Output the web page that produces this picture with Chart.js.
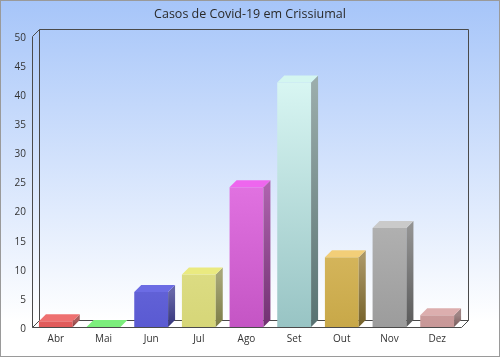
<!DOCTYPE html>
<html>
<head>
<meta charset="utf-8">
<script src="https://cdn.jsdelivr.net/npm/chart.js@4.4.0/dist/chart.umd.min.js"></script>
<style>
  html, body { margin: 0; padding: 0; background: #fff; }
  #wrap { width: 500px; height: 357px; }
</style>
</head>
<body>
<div id="wrap"><canvas id="casosChart"></canvas></div>
<script>
// Data for the chart
const chartTitle = 'Casos de Covid-19 em Crissiumal';
const months = ['Abr', 'Mai', 'Jun', 'Jul', 'Ago', 'Set', 'Out', 'Nov', 'Dez'];
const casos = [1, 0, 6, 9, 24, 42, 12, 17, 2];
const yMax = 50;
const yStep = 5;

// front face colours, light top / darker bottom, plus the top face
const topColors = ['#f88a8a', '#92f892', '#9494f6', '#f6f6b0', '#ff90ff', '#e4fffb', '#fadc94', '#d6d6d6', '#e8c2c2'];
const bottomColors = ['#e05a5a', '#62e062', '#5a5ad2', '#d6d678', '#c455c4', '#98c4c4', '#c8a848', '#9c9c9c', '#c89898'];
const capColors = ['#ee7070', '#7cee7c', '#6c6ce4', '#eaea80', '#ee66ee', '#d4f6f0', '#f2ce78', '#cacaca', '#dcaeae'];

const depthX = 7, depthY = 7;

function shade(hex, f) {
  const n = parseInt(hex.slice(1), 16);
  const r = Math.round(((n >> 16) & 255) * f);
  const g = Math.round(((n >> 8) & 255) * f);
  const b = Math.round((n & 255) * f);
  return 'rgb(' + Math.min(r, 255) + ',' + Math.min(g, 255) + ',' + Math.min(b, 255) + ')';
}

// background, outer border, title and the 3D frame (walls + floor)
const frame3d = {
  id: 'frame3d',
  beforeDraw(chart) {
    const ctx = chart.ctx;
    const { width, height } = chart;
    const area = chart.chartArea;
    ctx.save();
    const bg = ctx.createLinearGradient(0, 0, 0, height);
    bg.addColorStop(0, '#a6c5f9');
    bg.addColorStop(0.9, '#ffffff');
    bg.addColorStop(1, '#ffffff');
    ctx.fillStyle = bg;
    ctx.fillRect(0, 0, width, height);
    ctx.strokeStyle = '#9a9a9a';
    ctx.lineWidth = 1;
    ctx.strokeRect(0.5, 0.5, width - 1, height - 1);

    // title, centred on the whole canvas
    ctx.fillStyle = '#2a2a2a';
    ctx.font = '12.5px "Open Sans"';
    ctx.textAlign = 'center';
    ctx.textBaseline = 'middle';
    ctx.fillText(chartTitle, width / 2, 14);

    const l = Math.round(area.left) + 0.5, r = Math.round(area.right) + 0.5;
    const t = Math.round(area.top) + 0.5, b = Math.round(area.bottom) + 0.5;
    // floor
    ctx.fillStyle = '#ffffff';
    ctx.beginPath();
    ctx.moveTo(l, b); ctx.lineTo(l + depthX, b - depthY);
    ctx.lineTo(r + depthX, b - depthY); ctx.lineTo(r, b);
    ctx.closePath();
    ctx.fill();
    ctx.strokeStyle = '#4a4a4a';
    ctx.beginPath();
    // left wall + back wall
    ctx.moveTo(l, b); ctx.lineTo(l, t); ctx.lineTo(l + depthX, t - depthY);
    ctx.lineTo(r + depthX, t - depthY); ctx.lineTo(r + depthX, b - depthY);
    ctx.moveTo(l + depthX, t - depthY); ctx.lineTo(l + depthX, b - depthY);
    // floor lines
    ctx.moveTo(l, b); ctx.lineTo(r, b); ctx.lineTo(r + depthX, b - depthY);
    ctx.lineTo(l + depthX, b - depthY); ctx.lineTo(l, b);
    ctx.stroke();
    ctx.restore();
  },
  afterDatasetsDraw(chart) {
    const ctx = chart.ctx;
    const meta = chart.getDatasetMeta(0);
    ctx.save();
    meta.data.forEach(function(bar, i) {
      const left = bar.x - bar.width / 2;
      const right = bar.x + bar.width / 2;
      const top = bar.y;
      const base = bar.base;
      // side face
      const side = ctx.createLinearGradient(0, top, 0, base);
      side.addColorStop(0, shade(topColors[i], 0.68));
      side.addColorStop(1, shade(bottomColors[i], 0.58));
      ctx.fillStyle = side;
      ctx.beginPath();
      ctx.moveTo(right, top); ctx.lineTo(right + depthX, top - depthY);
      ctx.lineTo(right + depthX, base - depthY); ctx.lineTo(right, base);
      ctx.closePath();
      ctx.fill();
      // top face
      ctx.fillStyle = capColors[i];
      ctx.beginPath();
      ctx.moveTo(left, top); ctx.lineTo(left + depthX, top - depthY);
      ctx.lineTo(right + depthX, top - depthY); ctx.lineTo(right, top);
      ctx.closePath();
      ctx.fill();
    });
    ctx.restore();
  }
};

function frontGradient(context) {
  const chart = context.chart;
  const area = chart.chartArea;
  if (!area) return topColors[context.dataIndex];
  const el = context.element;
  const y0 = el && isFinite(el.y) ? el.y : area.top;
  const y1 = el && isFinite(el.base) ? el.base : area.bottom;
  const g = chart.ctx.createLinearGradient(0, y0, 0, Math.max(y1, y0 + 1));
  g.addColorStop(0, topColors[context.dataIndex]);
  g.addColorStop(1, bottomColors[context.dataIndex]);
  return g;
}

function createCasosChart() {
  const ctx = document.getElementById('casosChart').getContext('2d');
  new Chart(ctx, {
    type: 'bar',
    data: {
      labels: months,
      datasets: [{
        label: 'Casos',
        data: casos,
        backgroundColor: frontGradient,
        borderWidth: 0,
        barPercentage: 0.71,
        categoryPercentage: 1
      }]
    },
    options: {
      responsive: true,
      maintainAspectRatio: false,
      animation: false,
      layout: { padding: { left: 0, right: 39, top: 36, bottom: 0 } },
      plugins: {
        legend: { display: false },
        tooltip: { enabled: false },
        title: { display: false }
      },
      scales: {
        x: {
          grid: { display: false, drawTicks: false },
          border: { display: false },
          ticks: {
            color: '#333333',
            padding: 6,
            font: { family: 'Open Sans', size: 10 }
          },
          afterFit(scale) { scale.height = 30; }
        },
        y: {
          min: 0,
          max: yMax,
          grid: { display: false, drawTicks: false },
          border: { display: false },
          ticks: {
            stepSize: yStep,
            color: '#333333',
            padding: 6,
            labelOffset: 2,
            font: { family: 'Open Sans', size: 10 }
          },
          afterFit(scale) { scale.width = 32; }
        }
      }
    },
    plugins: [frame3d]
  });
}

document.addEventListener('DOMContentLoaded', function() {
  createCasosChart();
});
</script>
</body>
</html>
